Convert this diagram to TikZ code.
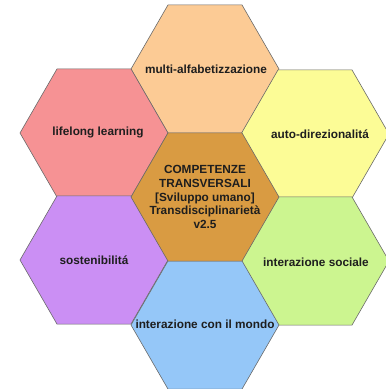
\documentclass[tikz,border=0pt]{standalone}
\usepackage{fontspec}
\setmainfont{Liberation Sans}
\usetikzlibrary{shapes.geometric}
\definecolor{cpeach}{HTML}{FCCB95}
\definecolor{cpink}{HTML}{F69294}
\definecolor{cyellow}{HTML}{FCFC96}
\definecolor{cochre}{HTML}{D99B42}
\definecolor{cpurple}{HTML}{CB8FF4}
\definecolor{cgreen}{HTML}{CCF590}
\definecolor{cblue}{HTML}{95C7F8}
\definecolor{cline}{HTML}{6A6A6A}
\definecolor{ctext}{HTML}{1E1E1E}
\tikzset{
  hexnode/.style={regular polygon, regular polygon sides=6, minimum size=148pt,
    inner sep=0pt, draw=cline, line width=0.6pt},
  lbl/.style={font=\fontsize{11.8}{13.6}\selectfont\bfseries, text=ctext, align=center, inner sep=0pt}
}
\begin{document}
\begin{tikzpicture}[x=1pt,y=-1pt]
\useasboundingbox (0,0) rectangle (386,389);
\clip (0,0) rectangle (386,389);
\node[hexnode, fill=cpeach] (htop) at (205,69) {};
\node[hexnode, fill=cpink] (hlu) at (94,133) {};
\node[hexnode, fill=cyellow] (hru) at (315,134) {};
\node[hexnode, fill=cpurple] (hll) at (94,260) {};
\node[hexnode, fill=cgreen] (hrl) at (315,261) {};
\node[hexnode, fill=cblue] (hbot) at (205,325) {};
\node[hexnode, fill=cochre] (hc) at (205,197) {};
\node[lbl] (ttop) at (206,69) {multi-alfabetizzazione};
\node[lbl] (tlu) at (98,132) {lifelong learning};
\node[lbl] (tru) at (320,134) {auto-direzionalitá};
\node[lbl] (tll) at (94,260) {sostenibilitá};
\node[lbl] (trl) at (316,262) {interazione sociale};
\node[lbl] (tbot) at (205,324) {interazione con il mondo};
\node[lbl] (tc) at (205,197) {COMPETENZE\\TRANSVERSALI\\{[Sviluppo umano]}\\Transdisciplinarietà\\v2.5};
\end{tikzpicture}
\end{document}
